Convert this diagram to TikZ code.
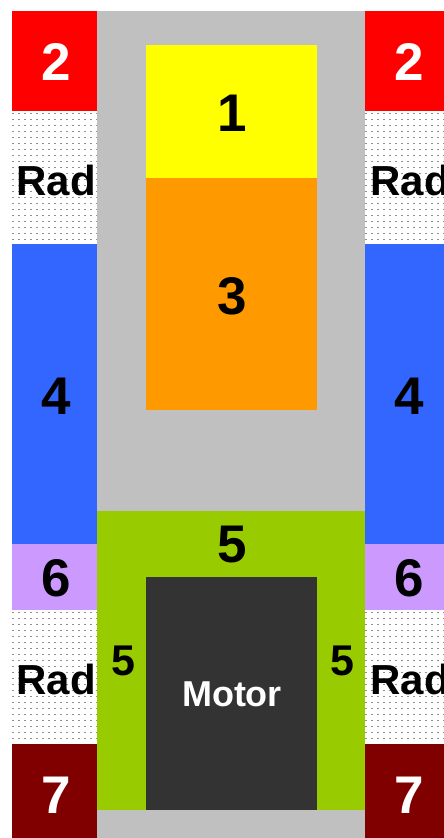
\documentclass[tikz,border=0pt]{standalone}
\usepackage{fontspec}
\setmainfont{Liberation Sans}
\definecolor{cgray}{HTML}{C0C0C0}
\definecolor{cred}{HTML}{FF0000}
\definecolor{cyellow}{HTML}{FFFF00}
\definecolor{corange}{HTML}{FF9900}
\definecolor{cblue}{HTML}{3366FF}
\definecolor{cpurple}{HTML}{CC99FF}
\definecolor{cdred}{HTML}{800000}
\definecolor{cgreen}{HTML}{99CC00}
\definecolor{cmotor}{HTML}{333333}
\definecolor{cdot}{HTML}{909090}
\tikzset{
  blk/.style={draw=none, inner sep=0pt, outer sep=0pt, anchor=north west, font=\bfseries\fontsize{53}{53}\selectfont},
  radtxt/.style={font=\bfseries\fontsize{42}{42}\selectfont, inner sep=0pt},
  sidefive/.style={font=\bfseries\fontsize{43}{43}\selectfont, inner sep=0pt},
  dotrow/.style={draw=cdot, line width=1pt, dash pattern=on 2pt off 4pt}
}
\begin{document}
\begin{tikzpicture}[x=1pt,y=-1pt]
\useasboundingbox (0,0) rectangle (444,838);
\clip (0,0) rectangle (444,838);
\fill[white] (0,0) rectangle (444,838);
% central frame
\node[blk, fill=cgray, minimum width=268pt, minimum height=827pt] (frame) at (97,11) {};
% left column
\node[blk, fill=cred, text=white, minimum width=85pt, minimum height=100pt] (l2) at (12,11) {};
\node[blk, fill=white, minimum width=85pt, minimum height=133pt] (lrad1) at (12,111) {};
\node[blk, fill=cblue, minimum width=85pt, minimum height=300pt] (l4) at (12,244) {};
\node[blk, fill=cpurple, minimum width=85pt, minimum height=66pt] (l6) at (12,544) {};
\node[blk, fill=white, minimum width=85pt, minimum height=134pt] (lrad2) at (12,610) {};
\node[blk, fill=cdred, text=white, minimum width=85pt, minimum height=94pt] (l7) at (12,744) {};
% right column
\node[blk, fill=cred, text=white, minimum width=88pt, minimum height=100pt] (r2) at (365,11) {};
\node[blk, fill=white, minimum width=88pt, minimum height=133pt] (rrad1) at (365,111) {};
\node[blk, fill=cblue, minimum width=88pt, minimum height=300pt] (r4) at (365,244) {};
\node[blk, fill=cpurple, minimum width=88pt, minimum height=66pt] (r6) at (365,544) {};
\node[blk, fill=white, minimum width=88pt, minimum height=134pt] (rrad2) at (365,610) {};
\node[blk, fill=cdred, text=white, minimum width=88pt, minimum height=94pt] (r7) at (365,744) {};
% dotted texture
\foreach \y in {113,119,...,241} {
  \draw[dotrow] (12,\y) -- (97,\y);
  \draw[dotrow] (365,\y) -- (453,\y);
}
\foreach \y in {612,618,...,741} {
  \draw[dotrow] (12,\y) -- (97,\y);
  \draw[dotrow] (365,\y) -- (453,\y);
}
\tikzset{lbl/.style={font=\bfseries\fontsize{53}{53}\selectfont, inner sep=0pt}}
\node[lbl, text=white] (l2t) at (56,62) {2};
\node[lbl] (l4t) at (56,396) {4};
\node[lbl] (l6t) at (56,578) {6};
\node[lbl, text=white] (l7t) at (56,795) {7};
\node[lbl, text=white] (r2t) at (409,62) {2};
\node[lbl] (r4t) at (409,396) {4};
\node[lbl] (r6t) at (409,578) {6};
\node[lbl, text=white] (r7t) at (409,795) {7};
\node[radtxt] (lradt1) at (56,180) {Rad};
\node[radtxt] (lradt2) at (56,679) {Rad};
\node[radtxt] (rradt1) at (410,180) {Rad};
\node[radtxt] (rradt2) at (410,679) {Rad};
% central parts
\node[blk, fill=cyellow, minimum width=171pt, minimum height=133pt] (c1) at (146,45) {};
\node[blk, fill=corange, minimum width=171pt, minimum height=232pt] (c3) at (146,178) {};
\node[lbl] (c1t) at (232,113) {1};
\node[lbl] (c3t) at (232,296) {3};
\node[blk, fill=cgreen, minimum width=268pt, minimum height=299pt] (green) at (97,511) {};
\node[blk, fill=cmotor, minimum width=171pt, minimum height=233pt] (motor) at (146,577) {};
\node[font=\bfseries\fontsize{36}{36}\selectfont, text=white, inner sep=0pt] (motort) at (232,694) {Motor};
\node[lbl] (g5top) at (232,545) {5};
\node[sidefive] (g5l) at (123,661) {5};
\node[sidefive] (g5r) at (342,661) {5};
\end{tikzpicture}
\end{document}
